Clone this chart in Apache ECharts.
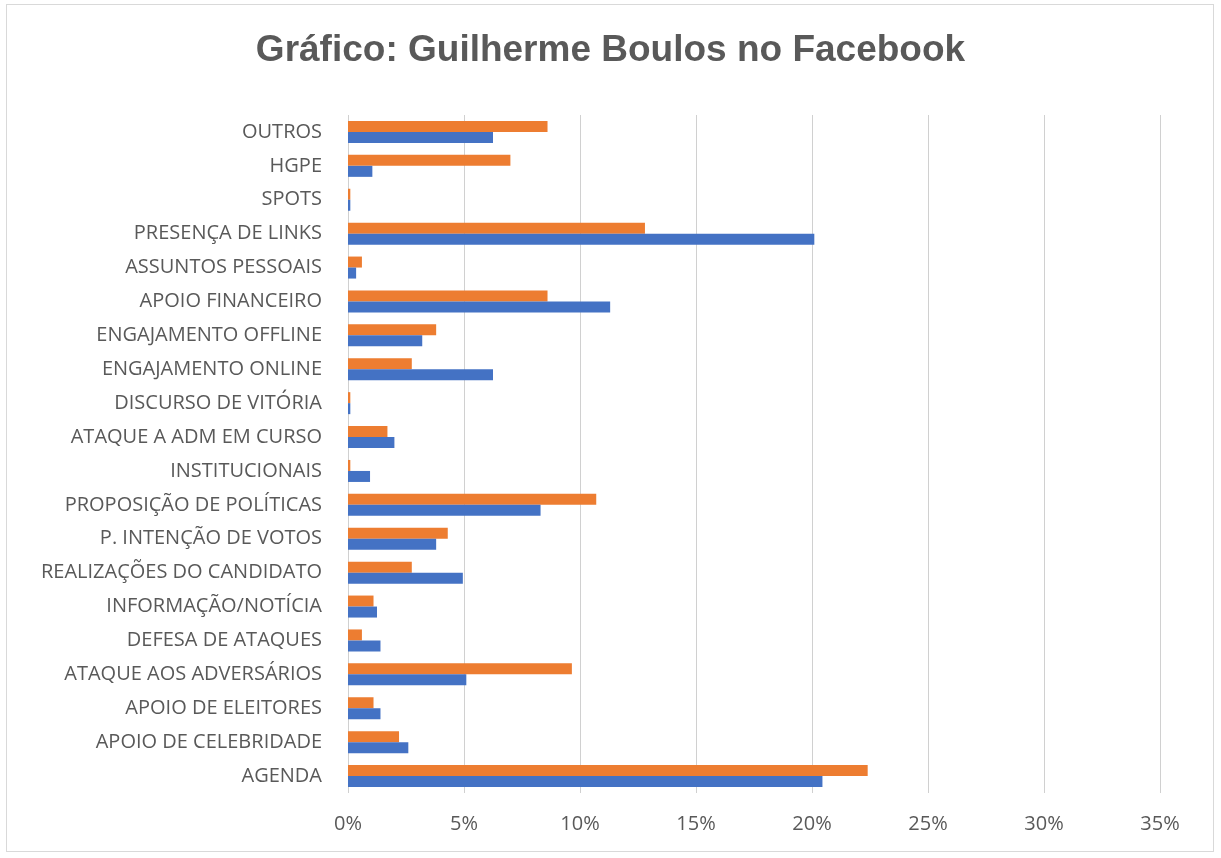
<!DOCTYPE html>
<html>
<head>
<meta charset="utf-8">
<title>Gráfico: Guilherme Boulos no Facebook</title>
<script src="https://cdn.jsdelivr.net/npm/echarts@6/dist/echarts.min.js"></script>
<style>
  html, body { margin: 0; padding: 0; background: #fff; }
  #main { width: 1221px; height: 858px; }
  #frame { position: absolute; left: 6px; top: 4px; width: 1206px; height: 846px; border: 1px solid #d9d9d9; pointer-events: none; }
</style>
</head>
<body>
<div id="main"></div>
<div id="frame"></div>
<script>
// categorias de baixo para cima (eixo de categorias do ECharts)
var categorias = ['AGENDA', 'APOIO DE CELEBRIDADE', 'APOIO DE ELEITORES', 'ATAQUE AOS ADVERSÁRIOS',
	'DEFESA DE ATAQUES', 'INFORMAÇÃO/NOTÍCIA', 'REALIZAÇÕES DO CANDIDATO', 'P. INTENÇÃO DE VOTOS',
	'PROPOSIÇÃO DE POLÍTICAS', 'INSTITUCIONAIS', 'ATAQUE A ADM EM CURSO', 'DISCURSO DE VITÓRIA',
	'ENGAJAMENTO ONLINE', 'ENGAJAMENTO OFFLINE', 'APOIO FINANCEIRO', 'ASSUNTOS PESSOAIS',
	'PRESENÇA DE LINKS', 'SPOTS', 'HGPE', 'OUTROS'];
// série laranja (%)
var serieLaranja = [22.4, 2.2, 1.1, 9.65, 0.6, 1.1, 2.75, 4.3, 10.7, 0.1, 1.7, 0.1,
	2.75, 3.8, 8.6, 0.6, 12.8, 0.1, 7.0, 8.6];
// série azul (%)
var serieAzul = [20.45, 2.6, 1.4, 5.1, 1.4, 1.25, 4.95, 3.8, 8.3, 0.95, 2.0, 0.1,
	6.25, 3.2, 11.3, 0.35, 20.1, 0.1, 1.05, 6.25];
var eixoX = { min: 0, max: 35, interval: 5 };

var myChart = echarts.init(document.getElementById('main'));
var option = {
	animation: false,
	title: {
		text: 'Gráfico: Guilherme Boulos no Facebook',
		left: 'center',
		top: 27,
		textStyle: {
			color: '#595959',
			fontFamily: 'Liberation Sans',
			fontWeight: 'bold',
			fontSize: 37
		}
	},
	grid: {
		left: 348,
		right: 61,
		top: 115,
		bottom: 65
	},
	xAxis: {
		type: 'value',
		min: eixoX.min,
		max: eixoX.max,
		interval: eixoX.interval,
		axisLine: { show: false },
		axisTick: { show: false },
		axisLabel: {
			formatter: '{value}%',
			color: '#595959',
			fontFamily: 'Open Sans',
			fontSize: 20,
			margin: 21
		},
		splitLine: { lineStyle: { color: '#d0d0d0', width: 1 } }
	},
	yAxis: {
		type: 'category',
		data: categorias,
		axisLine: { show: false },
		axisTick: { show: false },
		axisLabel: {
			color: '#595959',
			fontFamily: 'Open Sans',
			fontSize: 20,
			margin: 26
		}
	},
	series: [{
		name: 'Laranja',
		type: 'bar',
		data: serieLaranja,
		barWidth: 11,
		barGap: '0%',
		itemStyle: { color: '#ED7D31' }
	}, {
		name: 'Azul',
		type: 'bar',
		data: serieAzul,
		barWidth: 11,
		barGap: '0%',
		itemStyle: { color: '#4472C4' }
	}]
};
myChart.setOption(option);
</script>
</body>
</html>
